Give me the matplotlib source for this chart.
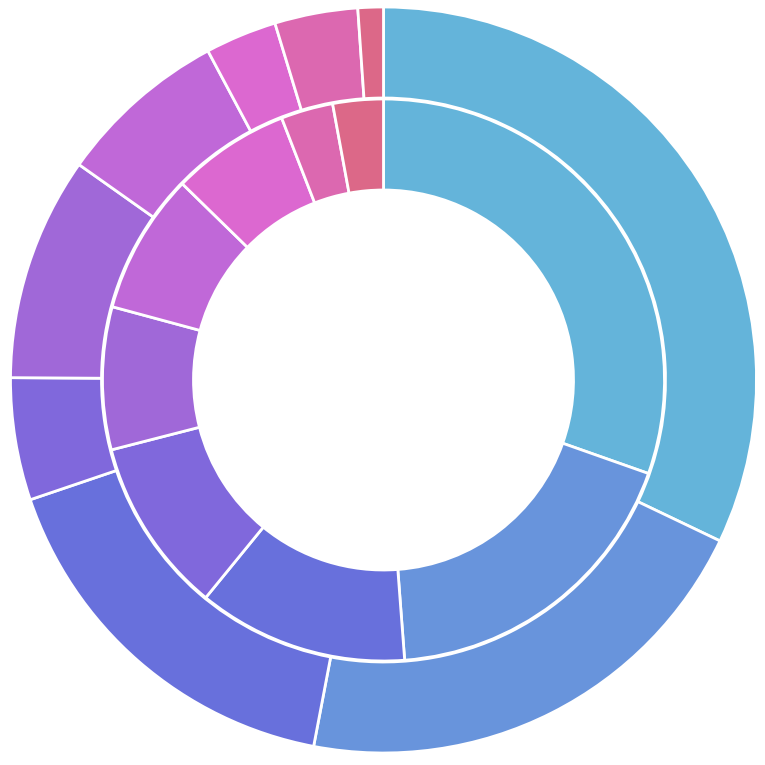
import matplotlib
matplotlib.use("Agg")
import matplotlib.pyplot as plt

# ring values (share of the circle, clockwise from 12 o'clock)
outer_values = [32.1, 20.9, 16.8, 5.3, 9.7, 7.4, 3.1, 3.6, 1.1]
inner_values = [30.4, 18.4, 12.1, 10.1, 8.2, 8.1, 6.8, 3.0, 2.9]

colors = ["#64b4da", "#6894dc", "#6870dc", "#8068dc", "#a068d8",
          "#c068d8", "#dc68d0", "#dc68b0", "#dc6888"]

fig = plt.figure(figsize=(7.65, 7.65), dpi=100)
ax = fig.add_axes([0, 0, 1, 1])

R = 373.0
ax.pie(outer_values, colors=colors, radius=1.0, startangle=90, counterclock=False,
       wedgeprops=dict(width=91 / R, edgecolor="white", linewidth=2))
ax.pie(inner_values, colors=colors, radius=281 / R, startangle=90, counterclock=False,
       wedgeprops=dict(width=91 / R, edgecolor="white", linewidth=2))

ax.set_xlim(-383.5 / R, 381.5 / R)
ax.set_ylim(-385 / R, 380 / R)
ax.set_aspect("equal")
ax.axis("off")

fig.savefig("out.png", dpi=100, facecolor="white")
